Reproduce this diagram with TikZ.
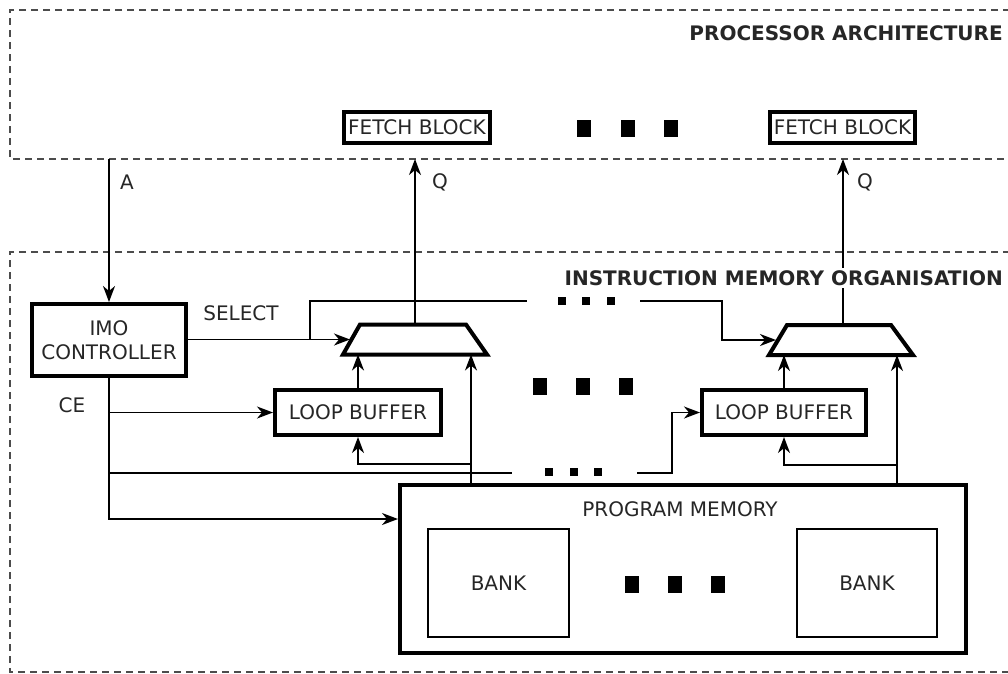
\documentclass[tikz,border=0pt]{standalone}
\usepackage{fontspec}
\setmainfont{DejaVu Sans}
\usetikzlibrary{arrows.meta}
\begin{document}
\begin{tikzpicture}[x=1pt,y=-1pt,
  txt/.style={font=\fontsize{20}{24}\selectfont, text=black!85, inner sep=0pt},
  btxt/.style={font=\fontsize{20}{24}\selectfont\bfseries, text=black!85},
  blk/.style={draw, line width=4pt, inner sep=0pt, txt, align=center},
  bankbox/.style={draw, line width=2pt, inner sep=0pt, txt},
  muxline/.style={draw, line width=4pt, line join=miter},
  conn/.style={line width=1.8pt},
  arr/.style={conn, -{Stealth[length=16pt,width=12pt,inset=5pt]}},
  bound/.style={draw=black!70, line width=1.3pt, dash pattern=on 7pt off 5pt}]

\useasboundingbox (0,0) rectangle (1008,673);

% boundaries
\draw[bound] (1010,10) -- (10,10) -- (10,159) -- (1010,159);
\draw[bound] (1010,252) -- (10,252) -- (10,672) -- (1010,672);
\node[btxt, anchor=east, inner sep=0pt] (pa-label) at (1003,33) {PROCESSOR ARCHITECTURE};
\coordinate (pa) at (0,159);

% blocks
\node[blk, minimum width=146pt, minimum height=31pt] (fetch1) at (417,127.5) {FETCH BLOCK};
\node[blk, minimum width=145pt, minimum height=31pt] (fetch2) at (842.5,127.5) {FETCH BLOCK};
\node[blk, minimum width=154pt, minimum height=72pt] (imo) at (109,340) {IMO\\CONTROLLER};
\node[blk, minimum width=166pt, minimum height=45pt] (lb1) at (358,412.5) {LOOP BUFFER};
\node[blk, minimum width=164pt, minimum height=45pt] (lb2) at (784,412.5) {LOOP BUFFER};

% multiplexers (trapezoids)
\coordinate (mux1) at (415,339.5);
\coordinate (mux1-n) at (415,324.5);
\coordinate (mux1-s) at (415,354.5);
\coordinate (mux1-w) at (350,339.5);
\draw[muxline] (343,354.5) -- (360,324.5) -- (466,324.5) -- (487,354.5) -- cycle;
\coordinate (mux2) at (841,340);
\coordinate (mux2-n) at (843,325);
\coordinate (mux2-s) at (841,355);
\coordinate (mux2-w) at (776,340);
\draw[muxline] (769,355) -- (787,325) -- (891,325) -- (913,355) -- cycle;

\node[draw, line width=4pt, minimum width=566pt, minimum height=168pt, inner sep=0pt] (pm) at (683,569) {};
\node[txt] (pm-label) at (680,509) {PROGRAM MEMORY};
\node[bankbox, minimum width=141pt, minimum height=108pt] (bank1) at (498.5,583) {BANK};
\node[bankbox, minimum width=140pt, minimum height=108pt] (bank2) at (867,583) {BANK};

% big dots
\foreach \x in {584,628,671} \fill (\x-7,119.5) rectangle (\x+7,136.5);
\foreach \x in {540,583,626} \fill (\x-7,377.5) rectangle (\x+7,394.5);
\foreach \x in {632,675,718} \fill (\x-7,575.5) rectangle (\x+7,592.5);
% small dots
\foreach \x in {562,586,611} \fill (\x-4,297) rectangle (\x+4,305);
\foreach \x in {549,574,598} \fill (\x-4,468) rectangle (\x+4,476);

% A
\draw[arr] (imo.north |- pa) -- (imo.north);
\node[txt] (la) at (127,182) {A};
% Q outputs
\draw[arr] (mux1-n) -- (mux1-n |- pa);
\node[txt] (lq1) at (440,182) {Q};
\draw[arr] (mux2-n) -- (mux2-n |- pa);
\node[txt] (lq2) at (865,182) {Q};

% SELECT
\draw[arr] (imo.east |- mux1-w) -- (mux1-w);
\node[txt] (lsel) at (241,313) {SELECT};
\coordinate (sj) at (310,0);
\coordinate (sd1) at (527,301);
\coordinate (sd2) at (640,301);
\coordinate (sk) at (722,301);
\draw[conn] (sj |- mux1-w) |- (sd1);
\draw[arr] (sd2) -| (sk |- mux2-w) -- (mux2-w);

% CE
\coordinate (pmin) at (0,519);
\draw[arr] (imo.south) |- (pm.west |- pmin);
\draw[arr] (imo.south |- lb1.west) -- (lb1.west);
\node[txt] (lce) at (72,405) {CE};
\coordinate (h1) at (0,473);
\coordinate (hd1) at (512,473);
\coordinate (hd2) at (637,473);
\coordinate (hk) at (672,473);
\draw[conn] (imo.south |- h1) -- (hd1);
\draw[arr] (hd2) -| (hk |- lb2.west) -- (lb2.west);

% memory to mux / loop buffer (left)
\coordinate (m1r) at (471,354.5);
\coordinate (b1) at (0,464);
\draw[arr] (m1r |- pm.north) -- (m1r);
\draw[arr] (m1r |- b1) -| (lb1.south);
\draw[arr] (lb1.north) -- (lb1.north |- mux1-s);

% memory to mux / loop buffer (right)
\coordinate (m2r) at (897,355);
\coordinate (b2) at (0,465);
\draw[arr] (m2r |- pm.north) -- (m2r);
\draw[arr] (m2r |- b2) -| (lb2.south);
\draw[arr] (lb2.north) -- (lb2.north |- mux2-s);

\node[btxt, anchor=east, fill=white, inner sep=2pt] (imo-label) at (1005,278) {INSTRUCTION MEMORY ORGANISATION};
\end{tikzpicture}
\end{document}
